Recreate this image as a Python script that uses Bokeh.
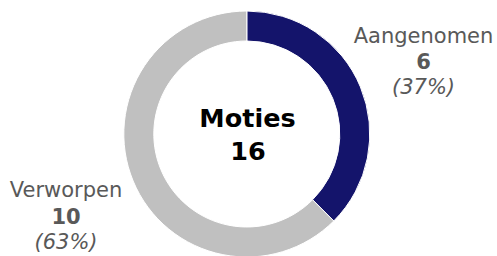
from math import pi
from bokeh.plotting import figure
from bokeh.models import Range1d, ColumnDataSource
from bokeh.core.properties import value
from bokeh.embed import file_html
from bokeh.resources import INLINE

# ---- data ----
categories = ["Aangenomen", "Verworpen"]
counts = [6, 10]
percent_labels = ["(37%)", "(63%)"]
center_title = "Moties"
total = sum(counts)

# ---- styles / layout ----
colors = ["#14146B", "#C0C0C0"]
label_color = "#595959"
FONT = value("DejaVu Sans")
W, H = 497, 256
CX, CY = 246.3, -133.5          # picture px, y negated
R_IN, R_OUT = 93, 123
ADJ = 9                          # baseline correction of the svg text
label_x = [423, 65.5]
label_base = [[44, 69.5, 95], [198.3, 224, 250]]   # baselines in picture px

def yy(b):
    return -(b - ADJ)

p = figure(width=W, height=H, output_backend="svg", toolbar_location=None,
           x_range=Range1d(0, W), y_range=Range1d(-H, 0),
           min_border=0, outline_line_color=None)
p.axis.visible = False
p.grid.visible = False
p.background_fill_color = "white"
p.border_fill_color = "white"

# angles: start at top, go clockwise
starts, ends = [], []
acc = 0
for c in counts:
    a0 = pi / 2 - 2 * pi * acc / total
    a1 = pi / 2 - 2 * pi * (acc + c) / total
    starts.append(a1)
    ends.append(a0)
    acc += c

src = ColumnDataSource(dict(cat=categories, start=starts, end=ends, color=colors,
                            x=[CX] * len(counts), y=[CY] * len(counts)))
p.annular_wedge(x="x", y="y", inner_radius=R_IN, outer_radius=R_OUT,
                start_angle="start", end_angle="end", fill_color="color",
                line_color="white", line_width=1, source=src)

# center text
p.text(x=[247], y=[yy(126.7)], text=[center_title], text_font=FONT, text_font_size="25.5px",
       text_font_style="bold", text_color="black", text_align="center",
       text_baseline="alphabetic")
p.text(x=[247.5], y=[yy(159.3)], text=[str(total)], text_font=FONT, text_font_size="25.5px",
       text_font_style="bold", text_color="black", text_align="center",
       text_baseline="alphabetic")

# slice labels
p.text(x=label_x, y=[yy(b[0]) for b in label_base], text=categories, text_font=FONT,
       text_font_size="21px", text_color=label_color, text_align="center",
       text_baseline="alphabetic")
p.text(x=label_x, y=[yy(b[1]) for b in label_base], text=[str(c) for c in counts],
       text_font=FONT, text_font_size="21px", text_font_style="bold",
       text_color=label_color, text_align="center", text_baseline="alphabetic")
p.text(x=label_x, y=[yy(b[2]) for b in label_base], text=percent_labels, text_font=FONT,
       text_font_size="21px", text_font_style="italic", text_color=label_color,
       text_align="center", text_baseline="alphabetic")

open("out.html", "w").write(file_html(p, INLINE))
